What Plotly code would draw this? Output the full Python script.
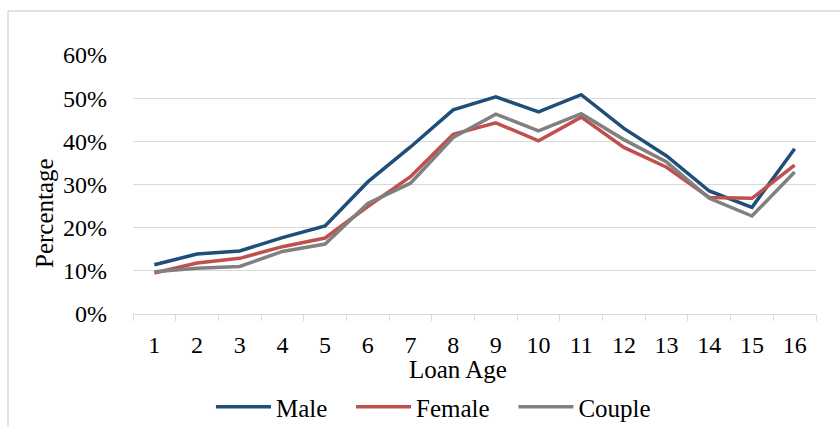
import plotly.graph_objects as go

loan_age = [str(i) for i in range(1, 17)]
male = [11.4, 13.9, 14.6, 17.7, 20.4, 30.6, 38.7, 47.3, 50.3, 46.8, 50.8, 43.0, 36.6, 28.5, 24.7, 38.3]
female = [9.5, 11.8, 12.9, 15.6, 17.6, 24.9, 31.8, 41.6, 44.3, 40.1, 45.6, 38.6, 34.0, 27.0, 26.8, 34.5]
couple = [9.8, 10.6, 11.0, 14.5, 16.2, 25.6, 30.3, 40.9, 46.3, 42.4, 46.4, 40.4, 35.2, 26.8, 22.7, 32.9]
series_names = ["Male", "Female", "Couple"]
colors = ["#1F4E79", "#C0504D", "#808080"]
y_ticks = [0, 10, 20, 30, 40, 50, 60]

FONT = "Times New Roman"
FS = 24
W, H = 840, 427
L, R, T, B = 133, 24, 55, 113
PAD = "\u00a0\u00a0\u00a0"

fig = go.Figure()
all_vals = [male, female, couple]
for i, (name, vals, col) in enumerate(zip(series_names, all_vals, colors)):
    label = name + (PAD if i < len(series_names) - 1 else "")
    fig.add_trace(go.Scatter(
        x=loan_age, y=[v / 100 for v in vals], name=label, mode="lines",
        line=dict(color=col, width=3.5), showlegend=True,
        hovertemplate=name + ": %{y:.1%}<extra></extra>",
    ))

fig.update_layout(
    width=W, height=H,
    margin=dict(l=L, r=R, t=T, b=B),
    paper_bgcolor="white", plot_bgcolor="white",
    font=dict(family=FONT, size=FS, color="#000000"),
    showlegend=True,
    legend=dict(orientation="h", xref="container", yref="container",
                x=0.516, y=1 - 407 / H, xanchor="center", yanchor="middle",
                font=dict(family=FONT, size=25, color="#000000"), itemwidth=55,
                tracegroupgap=0, bgcolor="rgba(0,0,0,0)"),
    xaxis=dict(type="category", range=[-0.5, len(loan_age) - 0.5],
               showgrid=False, showline=True, linecolor="#d9d9d9",
               linewidth=1, ticks="outside", ticklen=6, tickcolor="#d9d9d9",
               tickson="boundaries", ticklabelstandoff=9,
               tickfont=dict(family=FONT, size=FS, color="#000000"), zeroline=False),
    yaxis=dict(range=[0, 0.6], tickvals=[v / 100 for v in y_ticks],
               ticktext=[f"{v}%" for v in y_ticks], showgrid=True,
               gridcolor="#d9d9d9", gridwidth=1, showline=False, zeroline=False,
               ticks="", ticklabelstandoff=25,
               tickfont=dict(family=FONT, size=FS, color="#000000")),
    annotations=[
        dict(text="Percentage", xref="paper", yref="paper",
             x=(44 - L) / (W - L - R), y=(H - B - 213) / (H - T - B),
             textangle=-90, showarrow=False, xanchor="center", yanchor="middle",
             font=dict(family=FONT, size=25, color="#000000")),
        dict(text="Loan Age", xref="paper", yref="paper",
             x=(458 - L) / (W - L - R), y=(H - B - 369) / (H - T - B),
             showarrow=False, xanchor="center", yanchor="middle",
             font=dict(family=FONT, size=25, color="#000000")),
    ],
    shapes=[
        dict(type="line", xref="paper", yref="paper",
             x0=(8 - L) / (W - L - R), x1=(860 - L) / (W - L - R),
             y0=(H - B - 11) / (H - T - B), y1=(H - B - 11) / (H - T - B),
             line=dict(color="#d9d9d9", width=1.5)),
        dict(type="line", xref="paper", yref="paper",
             x0=(8 - L) / (W - L - R), x1=(8 - L) / (W - L - R),
             y0=(H - B - 11) / (H - T - B), y1=(H - B - 440) / (H - T - B),
             line=dict(color="#d9d9d9", width=1.5)),
    ],
)

fig.write_html("out.html")
